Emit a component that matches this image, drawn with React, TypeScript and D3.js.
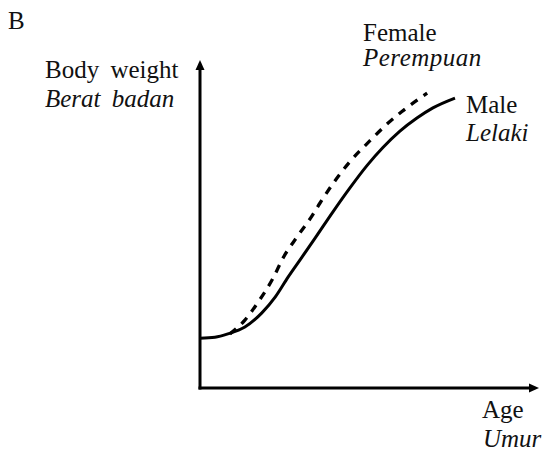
import React from "react";
import * as d3 from "d3";

const maleAge = [0, 4.4, 8.2, 13.2, 18.2, 22.1, 25.9, 30.0, 33.8, 39.1, 44.1, 49.1, 53.8, 58.8, 63.8, 68.5, 75.0];
const maleWeight = [15.2, 15.5, 16.5, 18.6, 22.9, 27.7, 33.8, 39.9, 45.6, 53.7, 61.0, 67.8, 73.3, 78.3, 82.3, 85.4, 88.4];
const femaleAge = [8.8, 13.2, 17.1, 21.5, 24.4, 28.5, 32.9, 35.3, 39.1, 44.1, 50.0, 54.4, 59.4, 66.8];
const femaleWeight = [16.5, 20.7, 26.2, 33.5, 39.6, 46.0, 52.4, 56.4, 62.3, 69.0, 75.4, 79.9, 84.3, 89.9];

const W = 542;
const H = 452;
const x = d3.scaleLinear().domain([0, 100]).range([200, 540]);
const y = d3.scaleLinear().domain([0, 100]).range([388, 60]);

const line = d3
  .line<[number, number]>()
  .x((d) => x(d[0]))
  .y((d) => y(d[1]))
  .curve(d3.curveMonotoneX);

const malePts = maleAge.map((a, i) => [a, maleWeight[i]] as [number, number]);
const femalePts = femaleAge.map((a, i) => [a, femaleWeight[i]] as [number, number]);

const font = "'Liberation Serif', 'Times New Roman', serif";

export default function App() {
  const x0 = x(0);
  const y0 = y(0);
  const yTop = 60;
  const xEnd = 539;
  return (
    <svg
      width={W}
      height={H}
      style={{ position: "absolute", left: 0, top: 0, background: "#fff" }}
      fontFamily={font}
    >
      <rect width={W} height={H} fill="#fff" />
      {/* axes */}
      <line x1={x0} y1={y0 + 1.5} x2={x0} y2={yTop + 8} stroke="#000" strokeWidth={3} />
      <path d={`M${x0},${yTop} L${x0 - 4.5},${yTop + 10} L${x0 + 4.5},${yTop + 10} Z`} fill="#000" />
      <line x1={x0 - 1.5} y1={y0} x2={xEnd - 8} y2={y0} stroke="#000" strokeWidth={3} />
      <path d={`M${xEnd},${y0} L${xEnd - 10},${y0 - 4.5} L${xEnd - 10},${y0 + 4.5} Z`} fill="#000" />
      {/* curves */}
      <path d={line(femalePts) || ""} fill="none" stroke="#000" strokeWidth={3.3} strokeDasharray="8 7.5" />
      <path d={line(malePts) || ""} fill="none" stroke="#000" strokeWidth={3} />
      {/* text */}
      <g fill="#111" fontSize={25}>
        <text x={8} y={29}>B</text>
        <text x={45} y={78} style={{ wordSpacing: "5px" }}>Body weight</text>
        <text x={45} y={107} fontStyle="italic" style={{ wordSpacing: "5px" }}>Berat badan</text>
        <text x={363} y={41}>Female</text>
        <text x={363} y={66} fontStyle="italic" letterSpacing={0.5}>Perempuan</text>
        <text x={466} y={113}>Male</text>
        <text x={466} y={141} fontStyle="italic">Lelaki</text>
        <text x={482} y={418}>Age</text>
        <text x={483} y={447} fontStyle="italic">Umur</text>
      </g>
    </svg>
  );
}
